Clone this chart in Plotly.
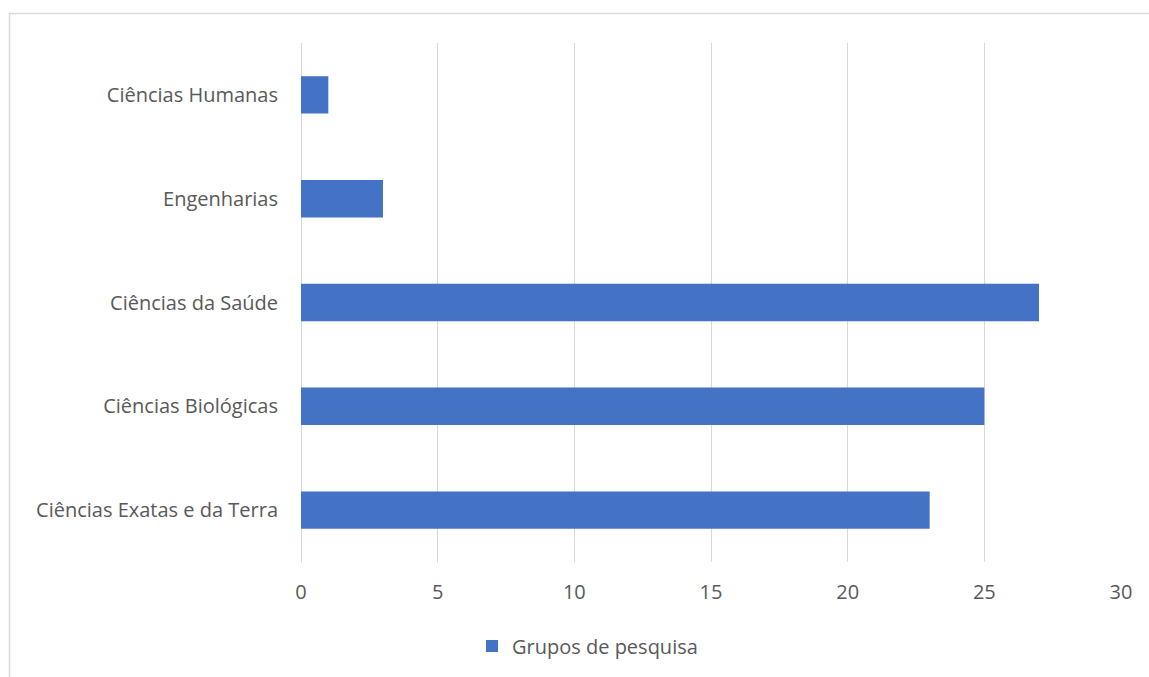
import plotly.graph_objects as go

categories = ["Ciências Exatas e da Terra", "Ciências Biológicas", "Ciências da Saúde",
              "Engenharias", "Ciências Humanas"]
values = [23, 25, 27, 3, 1]
series_name = "Grupos de pesquisa"
x_ticks = [0, 5, 10, 15, 20, 25, 30]

W, H = 1149, 677
L, R, T, B = 301, 28, 43, 115
pw, ph = W - L - R, H - T - B

def px_x(p):
    return (p - L) / pw

def px_y(p):
    return 1 - (p - T) / ph

font = dict(family="Open Sans, Lato, sans-serif", size=20, color="#595959")

fig = go.Figure(go.Bar(
    y=categories, x=values, orientation="h", name=series_name,
    marker=dict(color="#4472C4", line=dict(width=0)),
))

fig.update_layout(
    width=W, height=H,
    margin=dict(l=L, r=R, t=T, b=B, autoexpand=False),
    paper_bgcolor="white", plot_bgcolor="white",
    font=font,
    bargap=0.64,
    showlegend=True,
    legend=dict(orientation="h", x=px_x(472), xanchor="left", y=px_y(646), yanchor="middle",
                font=font, itemwidth=30),
    xaxis=dict(range=[0, 30], tickvals=x_ticks, showgrid=True, gridcolor="#D9D9D9", gridwidth=1.3,
               zeroline=True, zerolinecolor="#D9D9D9", zerolinewidth=1.3, showline=False,
               ticks="", ticklabelstandoff=16, fixedrange=True),
    yaxis=dict(categoryorder="array", categoryarray=categories, showgrid=False, zeroline=False,
               showline=False, ticks="", ticklabelstandoff=22, fixedrange=True),
    shapes=[dict(type="rect", xref="paper", yref="paper",
                 x0=px_x(9.5), x1=px_x(1160), y0=px_y(690), y1=px_y(13.5),
                 line=dict(color="#D9D9D9", width=1.5), fillcolor="rgba(0,0,0,0)", layer="below")],
)

fig.write_html("out.html")
